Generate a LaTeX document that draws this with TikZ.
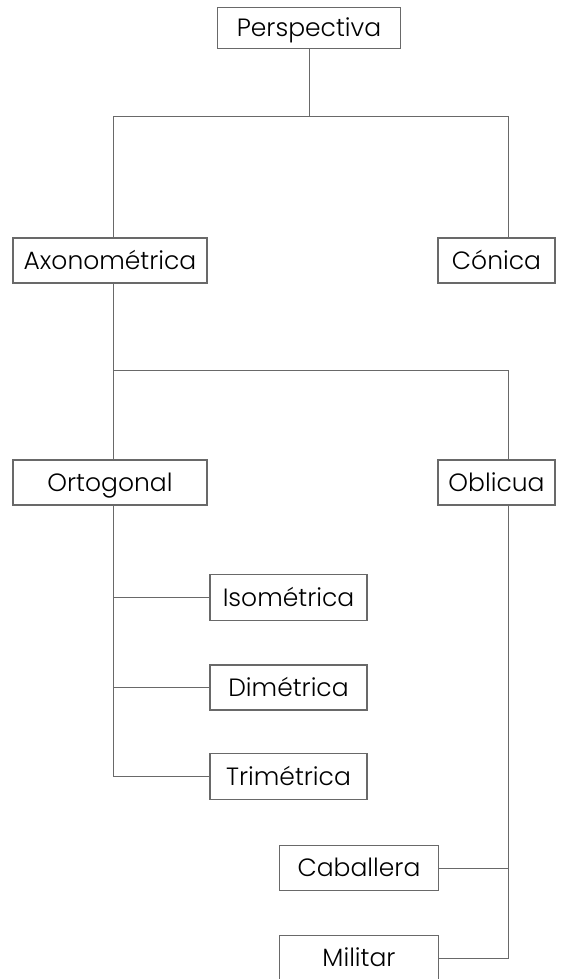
\documentclass[tikz,border=0pt]{standalone}
\usepackage{fontspec}
\setmainfont{Poppins}[UprightFont=* Light]
\usetikzlibrary{positioning}
\definecolor{linegray}{RGB}{105,105,105}
\tikzset{
	box/.style={draw=linegray,line width=1.2pt,fill=white,rectangle,align=center,inner sep=0pt,
		text height=17.5pt,text depth=0pt,font=\fontsize{25}{30}\selectfont},
	link/.style={draw=linegray,line width=1pt}
}
\begin{document}
\begin{tikzpicture}[x=1pt,y=-1pt]
	\useasboundingbox (0,0) rectangle (574,979);
	\node[box,minimum width=183pt,minimum height=41pt] (persp) at (309,28) {Perspectiva};
	\node[box,minimum width=194pt,minimum height=45pt] (axon) at (110,260.5) {Axonométrica};
	\node[box,minimum width=117pt,minimum height=45pt] (conica) at (496.5,260.5) {Cónica};
	\node[box,minimum width=194pt,minimum height=45pt] (orto) at (110,482.5) {Ortogonal};
	\node[box,minimum width=117pt,minimum height=45pt] (obli) at (496.5,482.5) {Oblicua};
	\node[box,minimum width=157pt,minimum height=46pt] (iso) at (288.5,597.5) {Isométrica};
	\node[box,minimum width=157pt,minimum height=45pt] (dim) at (288.5,687.5) {Dimétrica};
	\node[box,minimum width=157pt,minimum height=46pt] (tri) at (288.5,776.5) {Trimétrica};
	\node[box,minimum width=159pt,minimum height=45pt] (cab) at (359,868) {Caballera};
	\node[box,minimum width=159pt,minimum height=45pt] (mil) at (359,958) {Militar};
	\coordinate (ja) at (113,117);
	\coordinate (jb) at (508,117);
	\coordinate (jc) at (113,370);
	\coordinate (jd) at (508,370);
	
	\draw[link] (persp) -- (persp |- ja);
	\draw[link] (ja |- axon.north) -- (ja) -- (jb) -- (jb |- conica.north);
	\draw[link] (jc |- axon.south) -- (jc |- orto.north);
	\draw[link] (jc) -- (jd) -- (jd |- obli.north);
	\draw[link] (jc |- orto.south) |- (tri);
	\draw[link] (jc |- iso) -- (iso);
	\draw[link] (jc |- dim) -- (dim);
	\draw[link] (jd |- obli.south) |- (mil);
	\draw[link] (jd |- cab) -- (cab);
\end{tikzpicture}
\end{document}
